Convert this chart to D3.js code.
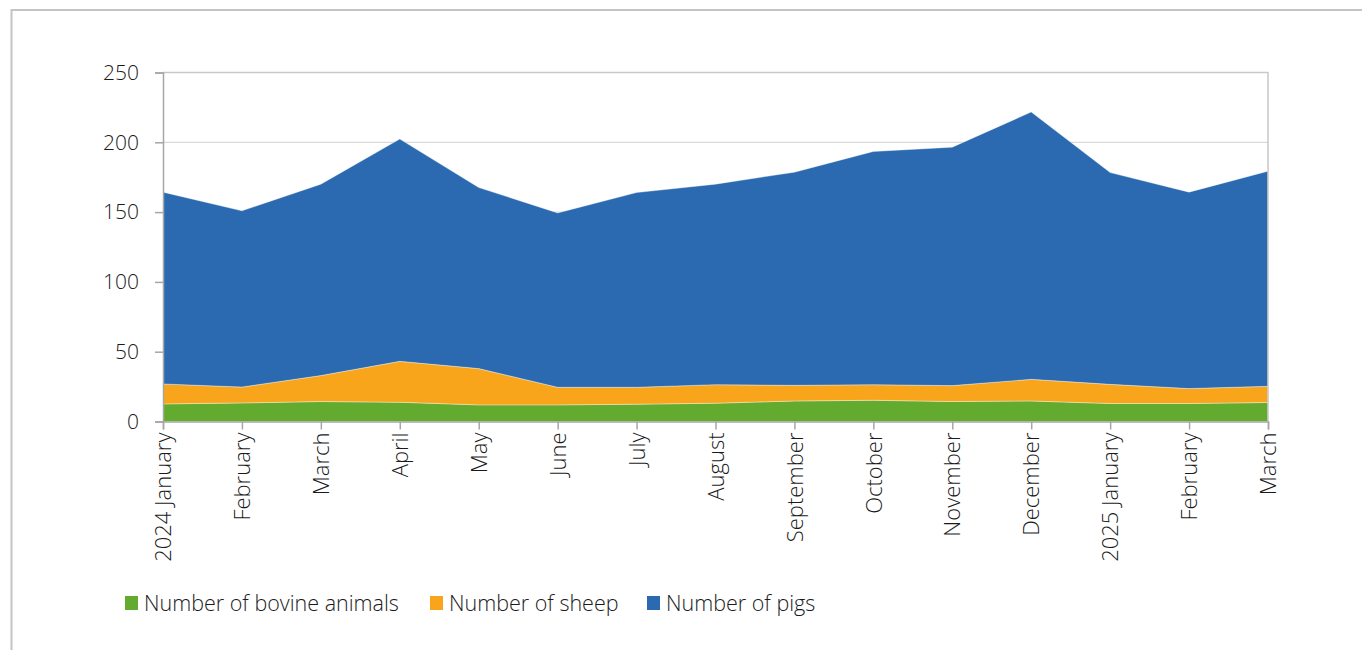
<!DOCTYPE html>
<html>
<head>
<meta charset="utf-8">
<script src="https://cdn.jsdelivr.net/npm/d3@7"></script>
<style>
  body { margin: 0; background: #fff; }
  svg { display: block; }
  svg text { font-family: 'Open Sans', sans-serif; font-weight: 300; }
</style>
</head>
<body>
<svg id="chart" width="1362" height="650"></svg>
<script>
// months along the x axis
const months = ['2024 January', 'February', 'March', 'April', 'May', 'June', 'July',
  'August', 'September', 'October', 'November', 'December', '2025 January', 'February', 'March'];

// series values
const bovine = [12.6, 13.3, 14.3, 13.8, 11.9, 11.9, 12.4, 13.1, 14.7, 15.2, 14.3, 14.7, 12.9, 12.9, 13.6];
const sheep = [14.3, 11.4, 18.6, 29.3, 26.0, 12.6, 12.1, 13.3, 11.2, 11.2, 11.4, 15.5, 13.7, 10.7, 11.6];
const pigs = [137.4, 126.2, 137.1, 159.2, 129.7, 124.9, 139.5, 143.6, 152.7, 167.0, 170.8, 191.5, 151.7, 140.7, 154.1];

const seriesNames = ['Number of bovine animals', 'Number of sheep', 'Number of pigs'];
const colors = ['#63ab2f', '#f8a51c', '#2b6ab0'];
const yTicks = [0, 50, 100, 150, 200, 250];

const svg = d3.select('#chart');
const margin = {left: 163, right: 94, top: 72.5, bottom: 228.5};
const W = 1362, H = 650;

// outer frame (runs past the right and bottom edge)
svg.append('rect')
  .attr('x', 11.5).attr('y', 10)
  .attr('width', 1400).attr('height', 700)
  .attr('fill', 'none')
  .attr('stroke', '#c4c4c4')
  .attr('stroke-width', 2);

const x = d3.scalePoint()
  .domain(d3.range(months.length))
  .range([margin.left, W - margin.right]);

const y = d3.scaleLinear()
  .domain([0, 250])
  .range([H - margin.bottom, margin.top]);

// gridlines
svg.append('g')
  .selectAll('line')
  .data(yTicks.filter(t => t > 0 && t < 250))
  .enter().append('line')
  .attr('x1', margin.left).attr('x2', W - margin.right)
  .attr('y1', d => y(d)).attr('y2', d => y(d))
  .attr('stroke', '#d9d9d9')
  .attr('stroke-width', 1.2);

const rows = months.map((m, i) => ({i, b: bovine[i], s: sheep[i], p: pigs[i]}));
const stack = d3.stack().keys(['b', 's', 'p']);
const layers = stack(rows);

const area = d3.area()
  .x(d => x(d.data.i))
  .y0(d => y(d[0]))
  .y1(d => y(d[1]));

svg.append('g')
  .selectAll('path')
  .data(layers)
  .enter().append('path')
  .attr('d', area)
  .attr('fill', (d, k) => colors[k])
  .attr('stroke', 'rgba(255,255,255,0.45)')
  .attr('stroke-width', 0.8);

// plot border top and right
svg.append('path')
  .attr('d', `M${margin.left},${y(250)}H${W - margin.right}V${y(0)}`)
  .attr('fill', 'none')
  .attr('stroke', '#c8c8c8')
  .attr('stroke-width', 1.5);

// y axis
const yAxis = svg.append('g')
  .attr('transform', `translate(${margin.left},0)`)
  .call(d3.axisLeft(y).tickValues(yTicks).tickSize(8).tickPadding(16));
yAxis.attr('font-family', null);
yAxis.select('.domain').attr('stroke', '#a6a6a6').attr('stroke-width', 1.5);
yAxis.selectAll('.tick line').attr('stroke', '#a6a6a6').attr('stroke-width', 1.5);
yAxis.selectAll('text')
  .attr('font-size', 21)
  .attr('fill', '#1a1a1a');

// x axis
const xAxis = svg.append('g')
  .attr('transform', `translate(0,${y(0)})`)
  .call(d3.axisBottom(x).tickSize(8).tickFormat(i => months[i]));
xAxis.attr('font-family', null);
xAxis.select('.domain').attr('stroke', '#a6a6a6').attr('stroke-width', 1.5);
xAxis.selectAll('.tick line').attr('stroke', '#a6a6a6').attr('stroke-width', 1.5);
xAxis.selectAll('text')
  .attr('font-size', 22)
  .attr('fill', '#1a1a1a')
  .attr('transform', 'rotate(-90)')
  .attr('text-anchor', 'end')
  .attr('x', -11)
  .attr('y', 0)
  .attr('dy', '0.35em');

// legend
const legendX = [125, 430, 647];
const legend = svg.append('g');
seriesNames.forEach((name, k) => {
  const g = legend.append('g').attr('transform', `translate(${legendX[k]},603)`);
  g.append('rect')
    .attr('x', 0).attr('y', -7)
    .attr('width', 13).attr('height', 14)
    .attr('fill', colors[k]);
  g.append('text')
    .attr('x', 19).attr('y', 0)
    .attr('dy', '0.35em')
    .attr('font-size', 21.5)
    .attr('fill', '#1a1a1a')
    .text(name);
});
</script>
</body>
</html>
